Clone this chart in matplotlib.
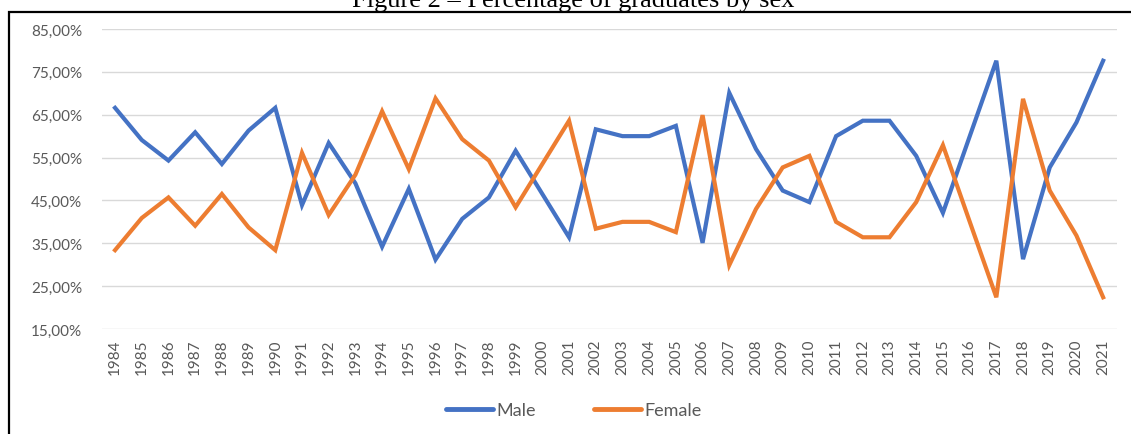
import matplotlib.pyplot as plt
from matplotlib.ticker import FuncFormatter
from matplotlib.patches import Rectangle
from matplotlib.lines import Line2D

# Data (share of graduates, %)
years = [str(y) for y in range(1984, 2022)]
male = [66.6, 59.1, 54.3, 60.9, 53.5, 61.3, 66.6, 43.9, 58.4, 49.0,
        34.2, 47.7, 31.2, 40.7, 45.7, 56.6, 46.5, 36.4, 61.6, 60.0,
        60.0, 62.4, 35.1, 70.1, 57.0, 47.3, 44.6, 60.0, 63.6, 63.6,
        55.4, 42.1, 59.9, 77.6, 31.3, 52.7, 63.2, 77.6]
female = [33.4, 40.9, 45.7, 39.1, 46.5, 38.7, 33.4, 56.1, 41.6, 51.0,
          65.8, 52.3, 68.8, 59.3, 54.3, 43.4, 53.5, 63.6, 38.4, 40.0,
          40.0, 37.6, 64.9, 29.9, 43.0, 52.7, 55.4, 40.0, 36.4, 36.4,
          44.6, 57.9, 40.1, 22.4, 68.7, 47.3, 36.8, 22.4]
yticks = [15, 25, 35, 45, 55, 65, 75, 85]

blue = '#4472C4'
orange = '#ED7D31'
grey = '#595959'

plt.rcParams['font.family'] = ['Lato', 'DejaVu Sans']

W, H = 1131, 435
fig = plt.figure(figsize=(W / 100, H / 100), dpi=100)

# axes placed in pixel terms
left, right, top, bottom = 101.7, 1116.5, 30, 330
ax = fig.add_axes([left / W, 1 - bottom / H, (right - left) / W, (bottom - top) / H])

x = list(range(len(years)))
ax.plot(x, male, color=blue, lw=3.0, solid_joinstyle='miter', label='Male')
ax.plot(x, female, color=orange, lw=3.0, solid_joinstyle='miter', label='Female')

ax.set_xlim(-0.5, len(years) - 0.5)
ax.set_ylim(15, 85)
ax.set_yticks(yticks)
ax.yaxis.set_major_formatter(FuncFormatter(lambda v, p: f'{v:.2f}%'.replace('.', ',')))
ax.set_xticks(x)
ax.set_xticklabels(years, rotation=90)
ax.tick_params(axis='both', length=0, colors=grey, labelsize=11)
ax.tick_params(axis='y', pad=14)
ax.tick_params(axis='x', pad=7)
ax.grid(axis='y', color='#D9D9D9', lw=1.0)
ax.set_axisbelow(True)
for s in ax.spines.values():
    s.set_visible(False)

# legend
handles = [Line2D([], [], color=blue, lw=3.5, solid_capstyle='round'),
           Line2D([], [], color=orange, lw=3.5, solid_capstyle='round')]
fig.legend(handles, ['Male', 'Female'], loc='center', bbox_to_anchor=(574 / W, 1 - 411 / H),
           ncol=2, frameon=False, fontsize=13, handlelength=2.6, handletextpad=0.2,
           columnspacing=3.2, labelcolor=grey)

# outer frame of the figure box (only left and top visible)
fig.patches.append(Rectangle((9 / W, -0.1), 1.2, 1 - 13 / H + 0.1, transform=fig.transFigure,
                             fill=False, edgecolor='black', lw=1.6))

# title, partly cut off at the top
fig.text(573 / W, 1 - 7 / H, 'Figure 2 \u2013 Percentage of graduates by sex', ha='center',
         va='baseline', fontsize=19, family='Liberation Serif')

fig.savefig('out.png', dpi=100)
